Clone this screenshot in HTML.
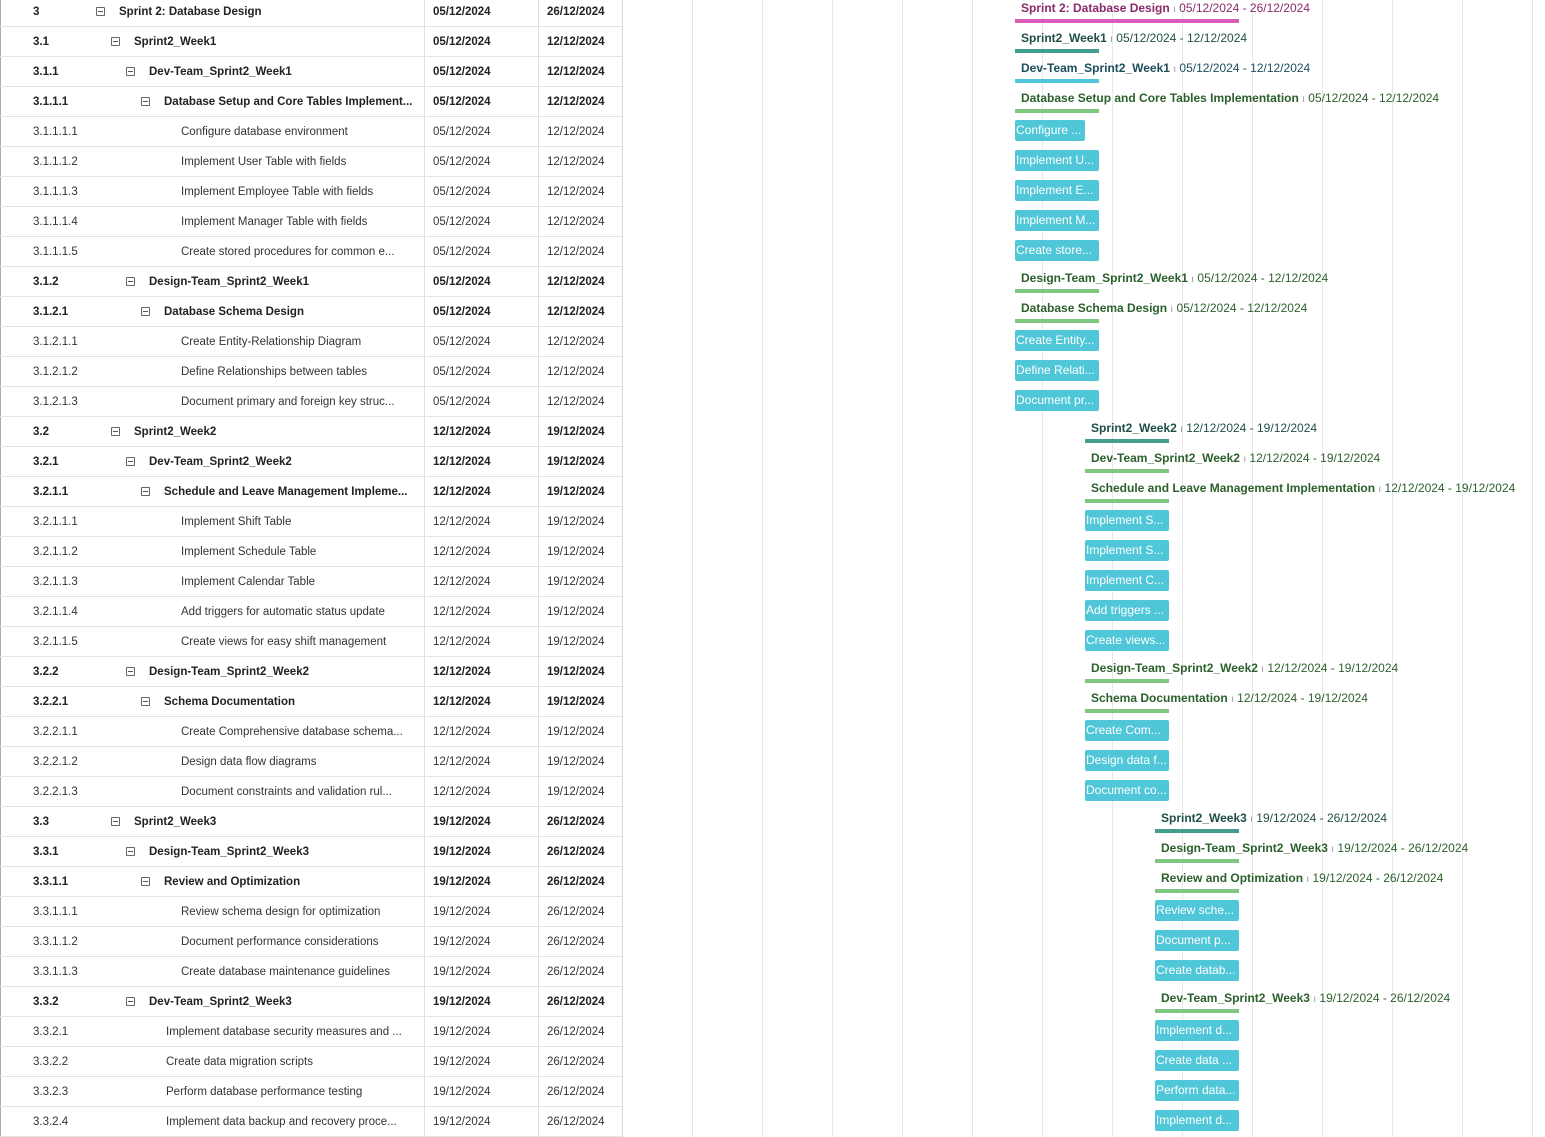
<!DOCTYPE html>
<html><head><meta charset="utf-8">
<style>
html,body{margin:0;padding:0;background:#fff;}
body{width:1545px;height:1137px;position:relative;overflow:hidden;font-family:"Liberation Sans",sans-serif;}
.abs{position:absolute;}
.cell{position:absolute;font-size:11.5px;color:#333;white-space:nowrap;line-height:14px;}
.b{font-weight:bold;color:#222;}
.icon{position:absolute;width:9px;height:9px;border:1px solid #666;border-radius:1px;box-sizing:border-box;}
.icon:after{content:"";position:absolute;left:1px;right:1px;top:3px;height:1px;background:#555;}
.lbl{position:absolute;font-size:12px;white-space:nowrap;line-height:14px;}
.tbar{position:absolute;background:#4fc7d8;border-radius:2px;color:#fff;font-size:12px;line-height:21px;overflow:hidden;white-space:nowrap;padding-left:1px;box-sizing:border-box;}
</style></head><body>
<div id="root"></div>
<script>
const ids=["3","3.1","3.1.1","3.1.1.1","3.1.1.1.1","3.1.1.1.2","3.1.1.1.3","3.1.1.1.4","3.1.1.1.5","3.1.2","3.1.2.1","3.1.2.1.1","3.1.2.1.2","3.1.2.1.3","3.2","3.2.1","3.2.1.1","3.2.1.1.1","3.2.1.1.2","3.2.1.1.3","3.2.1.1.4","3.2.1.1.5","3.2.2","3.2.2.1","3.2.2.1.1","3.2.2.1.2","3.2.2.1.3","3.3","3.3.1","3.3.1.1","3.3.1.1.1","3.3.1.1.2","3.3.1.1.3","3.3.2","3.3.2.1","3.3.2.2","3.3.2.3","3.3.2.4"];
const names=["Sprint 2: Database Design","Sprint2_Week1","Dev-Team_Sprint2_Week1","Database Setup and Core Tables Implement...","Configure database environment","Implement User Table with fields","Implement Employee Table with fields","Implement Manager Table with fields","Create stored procedures for common e...","Design-Team_Sprint2_Week1","Database Schema Design","Create Entity-Relationship Diagram","Define Relationships between tables","Document primary and foreign key struc...","Sprint2_Week2","Dev-Team_Sprint2_Week2","Schedule and Leave Management Impleme...","Implement Shift Table","Implement Schedule Table","Implement Calendar Table","Add triggers for automatic status update","Create views for easy shift management","Design-Team_Sprint2_Week2","Schema Documentation","Create Comprehensive database schema...","Design data flow diagrams","Document constraints and validation rul...","Sprint2_Week3","Design-Team_Sprint2_Week3","Review and Optimization","Review schema design for optimization","Document performance considerations","Create database maintenance guidelines","Dev-Team_Sprint2_Week3","Implement database security measures and ...","Create data migration scripts","Perform database performance testing","Implement data backup and recovery proce..."];
const fullNames=["Sprint 2: Database Design","Sprint2_Week1","Dev-Team_Sprint2_Week1","Database Setup and Core Tables Implementation",null,null,null,null,null,"Design-Team_Sprint2_Week1","Database Schema Design",null,null,null,"Sprint2_Week2","Dev-Team_Sprint2_Week2","Schedule and Leave Management Implementation",null,null,null,null,null,"Design-Team_Sprint2_Week2","Schema Documentation",null,null,null,"Sprint2_Week3","Design-Team_Sprint2_Week3","Review and Optimization",null,null,null,"Dev-Team_Sprint2_Week3",null,null,null,null];
const barText=[null,null,null,null,"Configure ...","Implement U...","Implement E...","Implement M...","Create store...",null,null,"Create Entity...","Define Relati...","Document pr...",null,null,null,"Implement S...","Implement S...","Implement C...","Add triggers ...","Create views...",null,null,"Create Com...","Design data f...","Document co...",null,null,null,"Review sche...","Document p...","Create datab...",null,"Implement d...","Create data ...","Perform data...","Implement d..."];
const levels=[0,1,2,3,4,4,4,4,4,2,3,4,4,4,1,2,3,4,4,4,4,4,2,3,4,4,4,1,2,3,4,4,4,2,3,3,3,3];
const parent=[1,1,1,1,0,0,0,0,0,1,1,0,0,0,1,1,1,0,0,0,0,0,1,1,0,0,0,1,1,1,0,0,0,1,0,0,0,0];
const starts=["05/12/2024","05/12/2024","05/12/2024","05/12/2024","05/12/2024","05/12/2024","05/12/2024","05/12/2024","05/12/2024","05/12/2024","05/12/2024","05/12/2024","05/12/2024","05/12/2024","12/12/2024","12/12/2024","12/12/2024","12/12/2024","12/12/2024","12/12/2024","12/12/2024","12/12/2024","12/12/2024","12/12/2024","12/12/2024","12/12/2024","12/12/2024","19/12/2024","19/12/2024","19/12/2024","19/12/2024","19/12/2024","19/12/2024","19/12/2024","19/12/2024","19/12/2024","19/12/2024","19/12/2024"];
const ends=["26/12/2024","12/12/2024","12/12/2024","12/12/2024","12/12/2024","12/12/2024","12/12/2024","12/12/2024","12/12/2024","12/12/2024","12/12/2024","12/12/2024","12/12/2024","12/12/2024","19/12/2024","19/12/2024","19/12/2024","19/12/2024","19/12/2024","19/12/2024","19/12/2024","19/12/2024","19/12/2024","19/12/2024","19/12/2024","19/12/2024","19/12/2024","26/12/2024","26/12/2024","26/12/2024","26/12/2024","26/12/2024","26/12/2024","26/12/2024","26/12/2024","26/12/2024","26/12/2024","26/12/2024"];
const startDay=[0,0,0,0,0,0,0,0,0,0,0,0,0,0,7,7,7,7,7,7,7,7,7,7,7,7,7,14,14,14,14,14,14,14,14,14,14,14];
const endDay=[22.4,8.4,8.4,8.4,7,8.4,8.4,8.4,8.4,8.4,8.4,8.4,8.4,8.4,15.4,15.4,15.4,15.4,15.4,15.4,15.4,15.4,15.4,15.4,15.4,15.4,15.4,22.4,22.4,22.4,22.4,22.4,22.4,22.4,22.4,22.4,22.4,22.4];
const kinds=["sprint","week","dev","story","task","task","task","task","task","story","story","task","task","task","week","story","story","task","task","task","task","task","story","story","task","task","task","week","story","story","task","task","task","story","task","task","task","task"];
const colors={sprint:["#d85db8","#8a2a6c"],week:["#449e90","#1f4f47"],dev:["#4fc7d8","#1d4e5c"],story:["#7fc67f","#2c602c"]};
const ROWH=30,TOP=-4,X0=1015,PXDAY=10;
const xs=d=>X0+d*PXDAY;
const root=document.getElementById('root');
function mk(cls,parentEl){const e=document.createElement('div');e.className=cls;(parentEl||root).appendChild(e);return e;}
for(let x=692;x<1545;x+=70){const g=mk('abs');

g.style.cssText=`left:${x}px;top:0;width:1px;height:1137px;background:#e8e8e8`;}
[[0,1,'#aaa'],[424,1,'#e0e0e0'],[538,1,'#e0e0e0'],[622,1,'#d8d8d8']].forEach(([x,w,c])=>{const l=mk('abs');

l.style.cssText=`left:${x}px;top:0;width:${w}px;height:1137px;background:${c}`;});
ids.forEach((id,i)=>{
 const top=TOP+i*ROWH;
 const row=mk('abs');
 
 row.style.cssText=`left:0;top:${top}px;width:622px;height:${ROWH}px`;
 const ln=mk('abs');
 
 ln.style.cssText=`left:0;top:${top+ROWH}px;width:622px;height:1px;background:#e4e4e4`;
 const bold=parent[i]?' b':'';
 const c1=mk('cell'+bold,row);
 
 c1.textContent=id;c1.style.left='33px';c1.style.top='9px';
 const lv=levels[i];
 let tx;
 if(parent[i]){const ic=mk('icon',row);
  
  const ix=96+lv*15;ic.style.left=ix+'px';ic.style.top='11px';tx=ix+23;}
 else tx=(lv===4?181:166);
 const c2=mk('cell'+bold,row);
 
 c2.textContent=names[i];c2.style.left=tx+'px';c2.style.top='9px';
 const c3=mk('cell'+bold,row);
 
 c3.textContent=starts[i];c3.style.left='433px';c3.style.top='9px';
 const c4=mk('cell'+bold,row);
 
 c4.textContent=ends[i];c4.style.left='547px';c4.style.top='9px';
 const x1=xs(startDay[i]),x2=xs(endDay[i]);
 if(kinds[i]==='task'){
  const b=mk('tbar');
  
  b.style.cssText+=`left:${x1}px;top:${top+4}px;width:${x2-x1}px;height:21px`;
  b.textContent=barText[i];
 }else{
  const [bc,tc]=colors[kinds[i]];
  const b=mk('abs');
  
  b.style.cssText=`left:${x1}px;top:${top+23}px;width:${x2-x1}px;height:4px;background:${bc}`;
  const l=mk('lbl');
  
  l.style.cssText+=`left:${x1+6}px;top:${top+5}px;color:${tc}`;
  l.innerHTML=`<b>${fullNames[i]}</b> <span style="color:#999;font-size:10px">ı</span> ${starts[i]} - ${ends[i]}`;
 }
});
</script>
</body></html>
